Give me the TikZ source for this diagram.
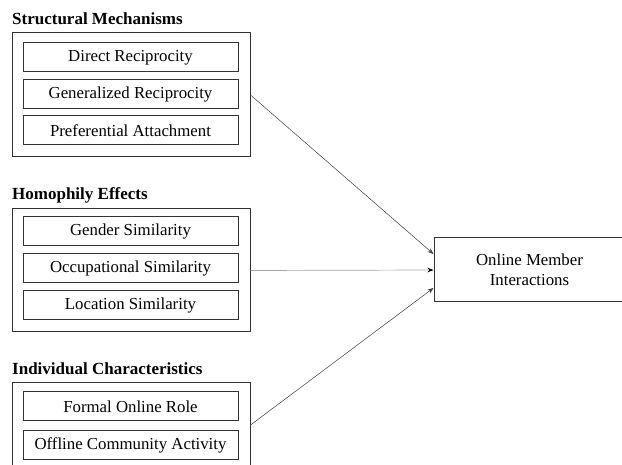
\documentclass[tikz,border=0pt]{standalone}
\usepackage{fontspec}
\setmainfont{Liberation Serif}
\usetikzlibrary{arrows.meta}
\definecolor{edge}{HTML}{333333}
\tikzset{
  grp/.style={draw=edge, line width=1pt},
  item/.style={draw=edge, line width=1pt, minimum width=215pt, minimum height=29pt, inner sep=0pt, font=\fontsize{16.8}{20}\selectfont},
  ttl/.style={anchor=base west, inner sep=0pt, font=\fontsize{17}{20}\selectfont\bfseries},
  conn/.style={draw=black!75, line width=0.5pt, -{Stealth[length=6pt,width=4.5pt]}},
  connl/.style={draw=black!35, line width=0.7pt, -{Stealth[length=6pt,width=4.5pt,color=black]}},
}
\begin{document}
\begin{tikzpicture}[x=1pt,y=-1pt]
\useasboundingbox (0,0) rectangle (622,465);
% titles
\node[ttl] (t1) at (12,25) {Structural Mechanisms};
\node[ttl] (t2) at (12,200) {Homophily Effects};
\node[ttl] (t3) at (12,375) {Individual Characteristics};
% group boxes
\node[grp, minimum width=238pt, minimum height=124pt, inner sep=0pt] (sm) at (131,95) {};
\node[grp, minimum width=238pt, minimum height=123pt, inner sep=0pt] (he) at (131,270.5) {};
\node[grp, minimum width=238pt, minimum height=84pt, inner sep=0pt] (ic) at (131,425) {};
% items
\node[item] (dr) at (130.5,57.5) {Direct Reciprocity};
\node[item] (gr) at (130.5,94) {Generalized Reciprocity};
\node[item] (pa) at (130.5,130.5) {Preferential Attachment};
\node[item] (gs) at (130.5,231.5) {Gender Similarity};
\node[item] (os) at (130.5,268.5) {Occupational Similarity};
\node[item] (ls) at (130.5,305.5) {Location Similarity};
\node[item] (fr) at (130.5,406.5) {Formal Online Role};
\node[item] (oc) at (130.5,445) {Offline Community Activity};
% outcome
\node[draw=edge, line width=1pt, minimum width=191pt, minimum height=64pt, inner sep=0pt, align=center, font=\fontsize{16.8}{20}\selectfont] (omi) at (529.5,270) {Online Member\\Interactions};
% connectors
\draw[conn] (sm.east) -- ([yshift=16pt]omi.west);
\draw[connl] (he.east) -- (omi.west);
\draw[conn] (ic.east) -- ([yshift=-18pt]omi.west);
\end{tikzpicture}
\end{document}
